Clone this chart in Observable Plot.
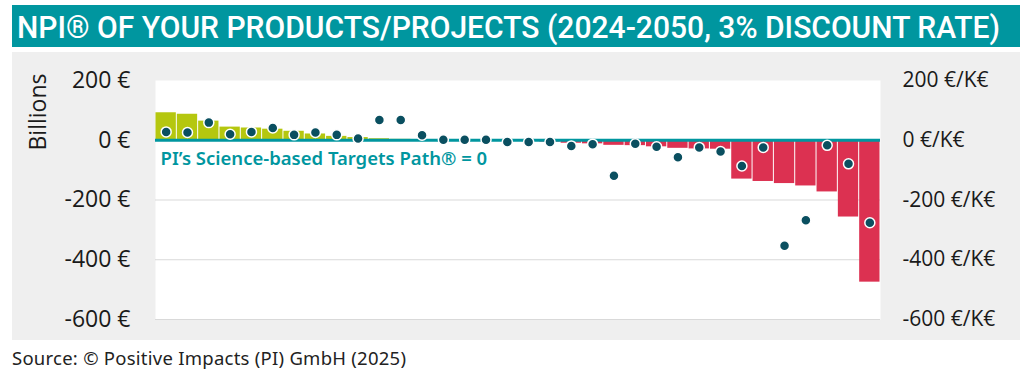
<!DOCTYPE html>
<html><head><meta charset="utf-8">
<script src="https://cdn.jsdelivr.net/npm/d3@7"></script>
<script src="https://cdn.jsdelivr.net/npm/@observablehq/plot@0.6"></script>
<style>
body{margin:0;background:#fff;width:1024px;height:381px;position:relative;overflow:hidden;font-family:"Noto Sans",sans-serif;}
#title{position:absolute;left:12px;top:5px;width:1008px;height:42px;background:#00969f;}
#title span{position:absolute;left:5px;top:22px;transform-origin:left center;color:#fff;font-family:Roboto,"DejaVu Sans",sans-serif;font-weight:500;font-size:32px;white-space:nowrap;line-height:1;}
#panel{position:absolute;left:12px;top:52px;width:1008px;height:288px;background:#efefef;}
#ylabel{position:absolute;left:37px;top:112px;transform:translate(-50%,-50%) rotate(-90deg);font-family:"Open Sans",sans-serif;font-size:23px;color:#1a1a1a;white-space:nowrap;}
#caption{position:absolute;left:12px;top:345px;font-size:18.5px;letter-spacing:0.25px;color:#222;font-family:"Noto Sans",sans-serif;white-space:nowrap;}
</style>
</head><body>
<div id="title"><span id="titleText">NPI® OF YOUR PRODUCTS/PROJECTS (2024-2050, 3% DISCOUNT RATE)</span></div>
<div id="panel"></div>
<div id="ylabel">Billions</div>
<div id="caption">Source: © Positive Impacts (PI) GmbH (2025)</div>
<script>
const categories = ["P1","P2","P3","P4","P5","P6","P7","P8","P9","P10","P11","P12","P13","P14","P15","P16","P17","P18","P19","P20","P21","P22","P23","P24","P25","P26","P27","P28","P29","P30","P31","P32","P33","P34"];
// NPI in billions € (bars)
const npiValues = [92,87,64,44,41,37,30,21,13,9,5,3,2,1,1,0.5,-1,-2,-6,-10,-12,-17,-18,-22,-27,-29,-30,-130,-138,-145,-153,-173,-257,-475];
// NPI intensity in €/K€ (dots)
const intensityValues = [28,26,59,20,28,41,18,26,18,6,68,68,17,2,2,2,-6,-6,-6,-19,-13,-119,-12,-22,-57,-24,-38,-86,-24,-353,-268,-17,-79,-276];
const yTicks = [200,0,-200,-400,-600];
const gridTicks = [-200,-400,-600];
const targetLabel = "PI’s Science-based Targets Path® = 0";

const teal = "#00969f", green = "#b5c70f", red = "#dc3151", dotColor = "#0a4f60";
const data = categories.map((c,i)=>({cat:c, npi:npiValues[i], intensity:intensityValues[i]}));

const chart = Plot.plot({
  width:1008, height:288,
  marginLeft:143, marginRight:140, marginTop:28, marginBottom:21,
  style:{background:"transparent", fontFamily:'"Open Sans", sans-serif', color:"#1a1a1a", overflow:"visible"},
  x:{type:"band", domain:categories, padding:0, round:false, axis:null},
  y:{domain:[-600,200], axis:null},
  marks:[
    Plot.frame({fill:"white", stroke:"none"}),
    Plot.ruleY(gridTicks,{stroke:"#d9d9d9", strokeWidth:1}),
    Plot.barY(data,{x:"cat", y:"npi", fill:d=>d.npi>=0?green:red, insetLeft:0.5, insetRight:0.5}),
    Plot.ruleY([0],{stroke:teal, strokeWidth:3}),
    Plot.dot(data,{x:"cat", y:"intensity", r:5, fill:dotColor, stroke:"white", strokeWidth:1.5}),
    Plot.axisY(yTicks,{anchor:"left", tickSize:0, tickPadding:25, tickFormat:d=>`${d} €`, fontSize:23, label:null}),
    Plot.axisY(yTicks,{anchor:"right", tickSize:0, tickPadding:22, tickFormat:d=>`${d} €/K€`, fontSize:21, label:null}),
    Plot.text([targetLabel],{y:0, frameAnchor:"left", dx:5, dy:19, textAnchor:"start", fill:teal, fontSize:18.5, fontWeight:600, fontFamily:'"Noto Sans", sans-serif'})
  ]
});
document.getElementById("panel").appendChild(chart);

const t = document.getElementById("titleText");
const w = t.getBoundingClientRect().width;
t.style.transform = `translateY(-50%) scaleX(${983 / w})`;
</script>
</body></html>
